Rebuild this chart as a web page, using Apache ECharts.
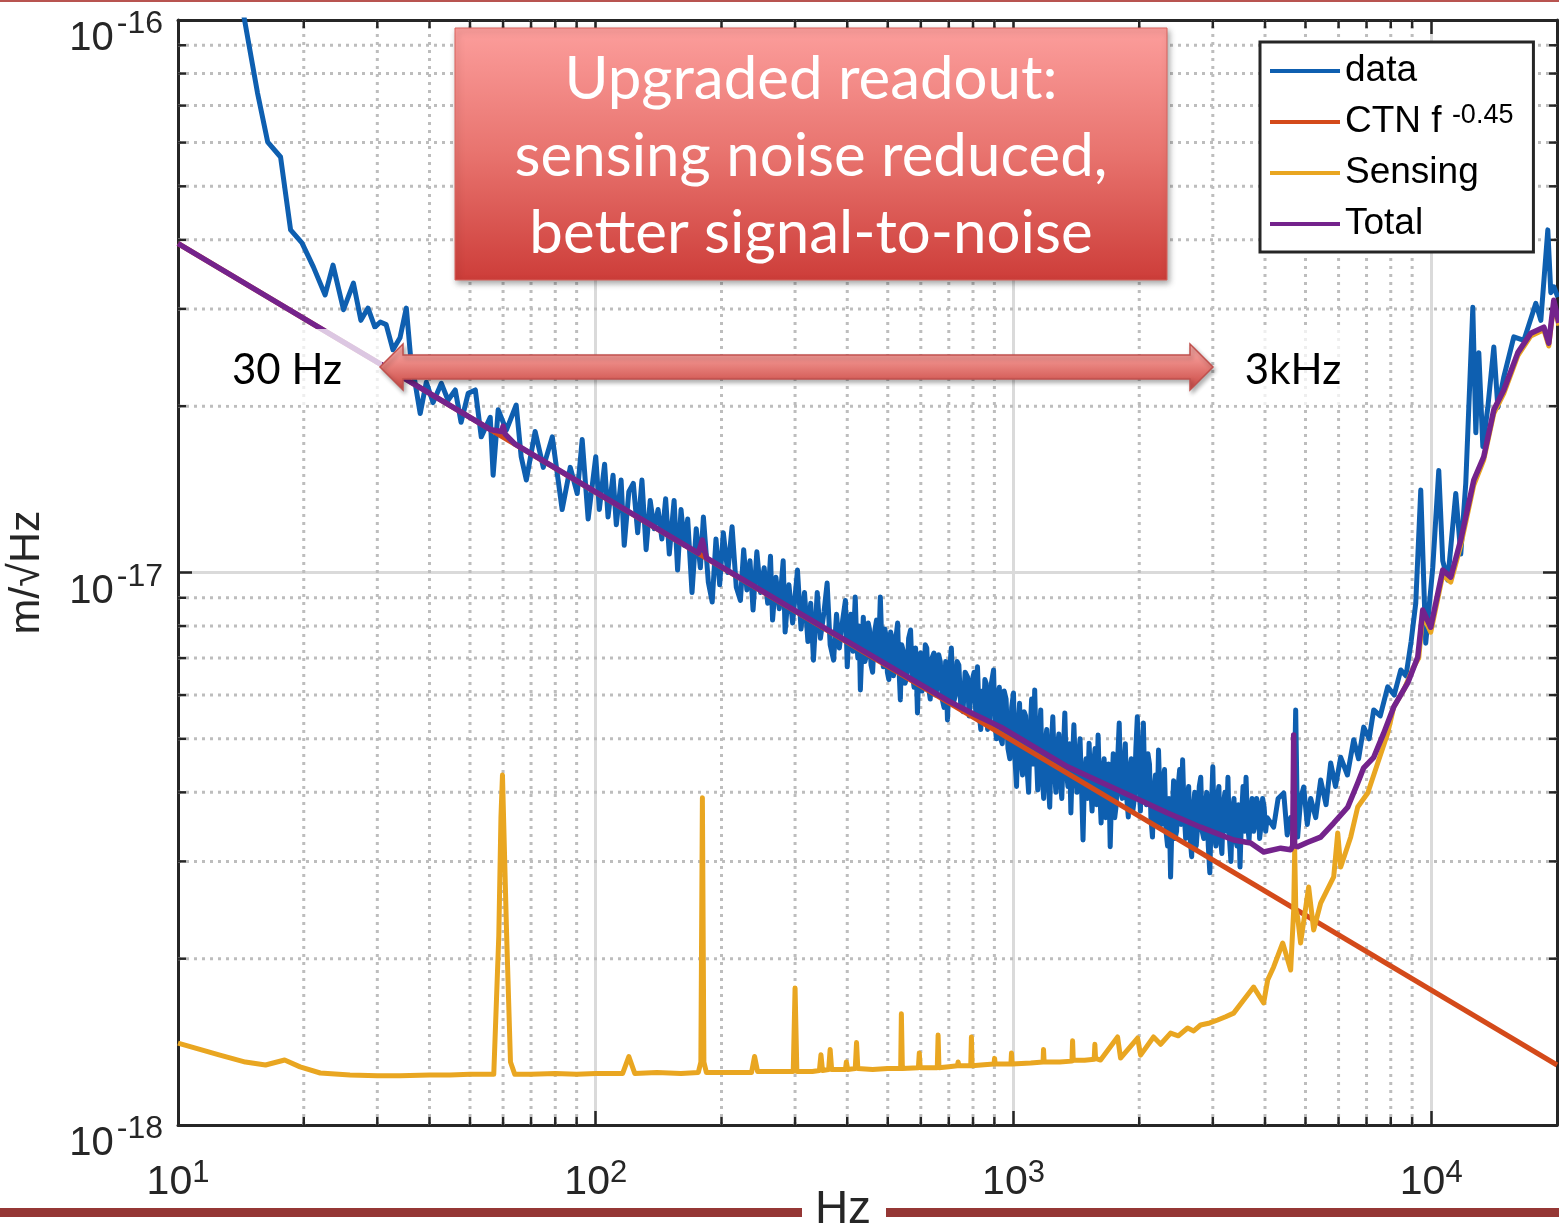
<!DOCTYPE html>
<html><head><meta charset="utf-8">
<script src="https://cdn.jsdelivr.net/npm/echarts@6/dist/echarts.min.js"></script>
<style>html,body{margin:0;padding:0;background:#fff;overflow:hidden}#c{width:1559px;height:1224px}</style>
</head><body><div id="c"></div>
<script>
// ---------- axes ----------
const X_MIN = 10, X_MAX = 20000, Y_MIN = 1e-18, Y_MAX = 1e-16;
const xMinorTicks = [20,30,40,50,60,70,80,90,200,300,400,500,600,700,800,900,2000,3000,4000,5000,6000,7000,8000,9000];
const yMinorTicks = [2e-18,3e-18,4e-18,5e-18,6e-18,7e-18,8e-18,9e-18,2e-17,3e-17,4e-17,5e-17,6e-17,7e-17,8e-17,9e-17];

// ---------- series: [frequency Hz, m/sqrt(Hz)] ----------
const ctnPoints = [[10,3.94e-17],[20000,1.284e-18]];

const dataPoints = [
[14.3,1.04e-16],[15.5,7.38e-17],[16.4,6.01e-17],[17.6,5.65e-17],[18.6,4.17e-17],[19.8,3.95e-17],[21.1,3.57e-17],[22.5,3.18e-17],[23.5,3.6e-17],[24.9,2.99e-17],
[26.3,3.34e-17],[27.4,2.86e-17],[28.5,3.01e-17],[29.6,2.78e-17],[30.5,2.84e-17],[31.5,2.81e-17],[32.7,2.53e-17],[34.0,2.66e-17],[35.2,3.01e-17],[36.0,2.48e-17],
[38.0,1.94e-17],[39.3,2.21e-17],[40.8,2.03e-17],[42.7,2.2e-17],[44.3,2.05e-17],[46.1,2.14e-17],[47.6,1.87e-17],[49.5,2.11e-17],[51.5,2.14e-17],[53.2,1.76e-17],
[55.9,1.91e-17],[56.8,1.5e-17],[58.4,1.97e-17],[61.1,1.81e-17],[64.5,2.01e-17],[66.3,1.62e-17],[68.2,1.47e-17],[71.6,1.8e-17],[74.9,1.55e-17],[78.7,1.76e-17],
[83.1,1.3e-17],[86.9,1.55e-17],[90.3,1.39e-17],[92.8,1.74e-17],[95.9,1.25e-17],
[100,1.62e-17],[102,1.30e-17],[105,1.57e-17],[107,1.26e-17],[110,1.50e-17],[112,1.22e-17],[115,1.47e-17],[117,1.12e-17],[120,1.40e-17],[123,1.45e-17],
[126,1.18e-17],[129,1.47e-17],[132,1.10e-17],[135,1.35e-17],[138,1.20e-17],[141,1.30e-17],[144,1.15e-17],[147,1.36e-17],[150,1.08e-17],[154,1.35e-17],
[157,1.01e-17],[160,1.30e-17],[163,1.12e-17],[166,1.25e-17],[170,9.2e-18],[174,1.20e-17],[178,1.02e-17],[181,1.26e-17],[186,9.6e-18],[190,8.84e-18],
[194,1.15e-17],[198,9.5e-18],[202,1.18e-17],[207,1.00e-17],[212,1.21e-17],[217,9.4e-18],[222,8.9e-18],[226,1.10e-17],[230,9.3e-18],[234,1.05e-17],
[238,8.55e-18],[243,1.09e-17],[248,9.2e-18],[253,1.02e-17],[258,8.8e-18],[262,1.07e-17],[265,8.2e-18],[270,9.8e-18],[275,8.6e-18],[281,1.05e-17],
[284,7.8e-18],[290,9.5e-18],[296,8.1e-18],[304,1.01e-17],[310,7.9e-18],[316,9.2e-18],[322,7.5e-18],[327,8.8e-18],[332,6.94e-18],[339,9.2e-18],
[345,7.6e-18],[352,8.5e-18],[358,9.57e-18],[364,7.4e-18],[371,6.94e-18],[377,8.4e-18],[383,7.3e-18],[390,8.2e-18],[396,8.9e-18],
[400,6.75e-18],[404,7.9e-18],[408,8.4e-18],[413,7.2e-18],[418,9.03e-18],[421,7.6e-18],[424,7.0e-18],[427,8.0e-18],[430,6.13e-18],[434,7.4e-18],
[437,8.3e-18],[441,6.9e-18],[445,7.1e-18],[449,8.1e-18],[452,7.9e-18],[456,6.8e-18],[460,6.6e-18],[465,7.8e-18],[470,8.2e-18],[475,7.0e-18],
[480,9.03e-18],[484,7.4e-18],[488,6.75e-18],[492,7.9e-18],[495,7.7e-18],[499,6.6e-18],[503,6.4e-18],[508,7.8e-18],[512,7.6e-18],[516,6.5e-18],
[520,6.9e-18],[524,7.7e-18],[528,8.1e-18],[532,6.7e-18],[536,5.88e-18],[540,7.4e-18],[545,7.2e-18],[550,6.3e-18],[556,6.5e-18],[561,7.6e-18],
[567,7.87e-18],[572,6.6e-18],[578,6.2e-18],[583,7.3e-18],[589,5.57e-18],[594,6.9e-18],[599,7.15e-18],[604,6.1e-18],[610,6.3e-18],[615,7.4e-18],
[620,7.3e-18],[626,6.2e-18],[632,5.9e-18],[638,7.0e-18],[645,7.15e-18],[651,6.0e-18],[657,6.2e-18],[662,7.1e-18],[668,6.9e-18],[675,5.9e-18],
[682,5.7e-18],[688,6.9e-18],[695,5.41e-18],[702,6.6e-18],[710,7.3e-18],[718,5.8e-18],[726,6.0e-18],[733,6.9e-18],[740,6.8e-18],[748,5.7e-18],
[757,5.6e-18],[766,6.6e-18],[776,6.47e-18],[783,5.5e-18],[790,5.5e-18],[797,6.4e-18],[805,6.6e-18],[812,5.6e-18],[820,6.75e-18],[827,5.6e-18],
[835,5.2e-18],[842,6.1e-18],[848,5.41e-18],[854,6.4e-18],[860,6.3e-18],[867,5.2e-18],[875,5.3e-18],[885,6.3e-18],[896,6.66e-18],[903,5.3e-18],
[910,5.0e-18],[917,6.0e-18],[925,6.2e-18],[932,5.0e-18],[940,4.9e-18],[950,6.1e-18],[960,5.9e-18],[970,4.8e-18],[980,4.6e-18],[990,5.7e-18],
[1000,6.05e-18],[1008,4.6e-18],[1017,4.1e-18],[1025,5.2e-18],[1034,5.8e-18],[1042,4.6e-18],[1051,4.3e-18],[1060,5.6e-18],[1069,5.5e-18],[1078,4.4e-18],
[1087,4.0e-18],[1096,5.1e-18],[1105,5.9e-18],[1114,4.5e-18],[1124,6.13e-18],[1133,4.8e-18],[1143,4.04e-18],[1152,5.0e-18],[1162,5.64e-18],[1171,4.3e-18],
[1181,3.9e-18],[1191,4.9e-18],[1201,5.2e-18],[1211,4.2e-18],[1221,3.76e-18],[1231,4.8e-18],[1242,5.48e-18],[1252,4.5e-18],[1263,4.0e-18],[1273,4.8e-18],
[1284,5.1e-18],[1294,4.2e-18],[1305,3.9e-18],[1316,4.7e-18],[1327,5.57e-18],[1338,4.4e-18],[1350,4.1e-18],[1361,4.9e-18],[1372,3.67e-18],[1383,4.5e-18],
[1395,5.3e-18],[1407,4.4e-18],[1419,4.0e-18],[1431,4.6e-18],[1443,5.0e-18],[1455,4.1e-18],[1467,3.28e-18],[1479,4.3e-18],[1492,4.6e-18],[1504,3.9e-18],
[1517,4.91e-18],[1529,4.2e-18],[1542,3.7e-18],[1555,4.5e-18],[1568,4.8e-18],[1581,3.8e-18],[1594,5.08e-18],[1607,4.1e-18],[1621,3.52e-18],[1634,4.3e-18],
[1648,4.6e-18],[1662,3.6e-18],[1676,3.9e-18],[1690,4.5e-18],[1704,3.19e-18],[1718,4.0e-18],[1733,4.7e-18],[1747,3.6e-18],[1762,3.8e-18],[1776,4.6e-18],
[1791,5.34e-18],[1806,4.0e-18],[1821,3.9e-18],[1836,4.4e-18],[1852,4.9e-18],[1867,3.9e-18],[1883,3.61e-18],[1898,4.4e-18],[1914,4.6e-18],[1930,3.7e-18],
[1947,3.9e-18],[1963,4.8e-18],[1979,5.48e-18],[1996,4.2e-18],[2013,3.7e-18],[2029,4.6e-18],[2046,5.34e-18],[2063,4.0e-18],[2081,3.8e-18],[2098,4.7e-18],
[2116,4.5e-18],[2133,3.6e-18],[2151,3.32e-18],[2169,4.0e-18],[2187,4.3e-18],[2205,3.5e-18],[2224,4.77e-18],[2242,3.9e-18],[2261,3.5e-18],[2280,4.2e-18],
[2299,4.4e-18],[2318,3.4e-18],[2338,3.2e-18],[2357,3.9e-18],[2377,2.81e-18],[2397,3.6e-18],[2417,4.2e-18],[2437,3.3e-18],[2457,3.4e-18],[2478,4.1e-18],
[2499,4.4e-18],[2519,3.5e-18],[2540,4.58e-18],[2561,3.7e-18],[2583,3.3e-18],[2604,3.9e-18],[2626,4.1e-18],[2648,3.3e-18],[2670,3.06e-18],[2692,3.7e-18],
[2715,4.0e-18],[2738,3.2e-18],[2761,3.5e-18],[2784,4.1e-18],[2807,4.26e-18],[2830,3.4e-18],[2854,3.3e-18],[2878,3.8e-18],[2902,4.0e-18],[2926,3.2e-18],
[2951,2.86e-18],[2975,3.7e-18],[3000,4.45e-18],[3025,3.4e-18],[3051,3.2e-18],[3076,3.9e-18],[3102,4.1e-18],[3128,3.3e-18],[3154,3.1e-18],[3180,3.8e-18],
[3207,4.0e-18],[3234,3.4e-18],[3261,4.26e-18],[3288,3.3e-18],[3315,3.0e-18],[3343,3.7e-18],[3371,3.9e-18],[3399,3.3e-18],[3428,3.2e-18],[3456,3.8e-18],
[3485,2.93e-18],[3514,3.6e-18],[3544,4.1e-18],[3573,3.4e-18],[3603,4.26e-18],[3633,3.5e-18],[3664,3.28e-18],[3694,3.7e-18],[3725,3.9e-18],[3756,3.4e-18],
[3788,3.5e-18],[3819,3.9e-18],[3851,3.8e-18],[3883,3.3e-18],[3916,3.5e-18],[3948,3.9e-18],[3981,3.76e-18],[4014,3.4e-18],[4048,3.6e-18],
[4195,3.46e-18],[4300,3.9e-18],[4435,3.99e-18],[4520,3.35e-18],[4608,3.6e-18],[4680,3.4e-18],[4737,5.64e-18],[4788,3.32e-18],[4870,3.9e-18],[4950,4.09e-18],
[5050,3.5e-18],[5145,3.9e-18],[5290,3.6e-18],[5436,4.21e-18],[5600,3.8e-18],[5745,4.52e-18],[5900,4.1e-18],[6071,4.63e-18],[6300,4.3e-18],[6522,4.98e-18],
[6700,4.6e-18],[6891,5.25e-18],[7100,5.0e-18],[7283,5.64e-18],[7550,5.5e-18],[7866,6.21e-18],[8150,6.0e-18],[8453,6.66e-18],[8700,6.5e-18],[8950,7.5e-18],
[9182,8.8e-18],[9438,1.41e-17],[9701,7.45e-18],[10083,1.02e-17],[10423,1.53e-17],[10654,1.05e-17],[10952,9.69e-18],[11135,1.11e-17],[11447,1.39e-17],[11767,1.08e-17],
[12095,1.45e-17],[12575,3.02e-17],[12785,1.79e-17],[12998,2.5e-17],[13289,1.69e-17],[13658,1.99e-17],[14119,2.56e-17],[14434,1.99e-17],[14919,2.26e-17],[15763,2.67e-17],
[16659,2.63e-17],[17797,3.07e-17],[18296,2.86e-17],[19012,4.17e-17],[19330,3.21e-17],[19652,3.29e-17],[20092,3.15e-17]
];

const sensingPoints = [
[10,1.407e-18],[12.6,1.338e-18],[14.5,1.30e-18],[16.2,1.284e-18],[18.0,1.311e-18],[19.6,1.274e-18],[21.9,1.242e-18],[25.8,1.232e-18],[30,1.228e-18],[34,1.228e-18],
[40,1.232e-18],[44.8,1.232e-18],[50,1.235e-18],[57.0,1.235e-18],[58.6,2.2e-18],[59.3,3.6e-18],[59.8,4.3e-18],[60.3,4.3e-18],[61.2,2.2e-18],[62.5,1.3e-18],
[64,1.235e-18],[70,1.235e-18],[80,1.24e-18],[90,1.235e-18],[100,1.24e-18],[110,1.24e-18],[116,1.24e-18],[120,1.33e-18],[124,1.24e-18],[140,1.245e-18],
[160,1.24e-18],[176,1.245e-18],[178.5,1.3e-18],[180,3.91e-18],[181.5,1.3e-18],[184,1.245e-18],[210,1.245e-18],[236,1.245e-18],[240,1.33e-18],[244,1.25e-18],
[270,1.25e-18],[297,1.25e-18],[300,1.77e-18],[303,1.25e-18],[330,1.25e-18],[343,1.255e-18],[346,1.34e-18],[349,1.255e-18],[361,1.26e-18],[364,1.37e-18],
[367,1.26e-18],[380,1.26e-18],[396,1.26e-18],[398,1.3e-18],[401,1.26e-18],[418,1.265e-18],[421,1.41e-18],[424,1.265e-18],[460,1.26e-18],[500,1.265e-18],
[537,1.265e-18],[539,1.59e-18],[542,1.265e-18],[592,1.27e-18],[595,1.35e-18],[598,1.27e-18],[657,1.27e-18],[660,1.455e-18],[663,1.27e-18],[700,1.275e-18],
[734,1.28e-18],[737,1.30e-18],[740,1.28e-18],[790,1.28e-18],[793,1.443e-18],[796,1.28e-18],[850,1.285e-18],[898,1.29e-18],[901,1.32e-18],[904,1.29e-18],
[950,1.29e-18],[986,1.29e-18],[989,1.35e-18],[992,1.29e-18],[1100,1.295e-18],[1177,1.30e-18],[1180,1.37e-18],[1184,1.30e-18],[1290,1.30e-18],[1380,1.305e-18],
[1385,1.42e-18],[1390,1.31e-18],[1480,1.31e-18],[1560,1.315e-18],[1566,1.40e-18],[1572,1.32e-18],[1616,1.311e-18],[1775,1.443e-18],[1804,1.322e-18],[1982,1.437e-18],
[2015,1.338e-18],[2164,1.443e-18],[2250,1.40e-18],[2377,1.467e-18],[2480,1.45e-18],[2611,1.498e-18],[2700,1.48e-18],[2805,1.517e-18],[2950,1.53e-18],[3081,1.549e-18],
[3220,1.57e-18],[3365,1.594e-18],[3556,1.683e-18],[3757,1.777e-18],[3970,1.663e-18],[4059,1.83e-18],[4195,1.932e-18],[4410,2.135e-18],[4608,1.908e-18],[4685,2.449e-18],
[4711,3.146e-18],[4740,2.45e-18],[4788,2.379e-18],[4867,2.135e-18],[5088,2.696e-18],[5231,2.254e-18],[5436,2.522e-18],[5841,2.812e-18],[5972,3.377e-18],[6071,2.931e-18],
[6416,3.322e-18],[6668,3.763e-18],[7046,3.99e-18],[7446,4.52e-18],[7866,5.12e-18],[8133,5.71e-18],[8594,6.13e-18],[9081,6.75e-18],[9333,7.0e-18],[9542,8.38e-18],
[9972,7.8e-18],[10654,9.9e-18],[11135,9.61e-18],[11767,1.12e-17],[12643,1.44e-17],[13356,1.6e-17],[14119,1.94e-17],[14919,2.11e-17],[16118,2.47e-17],[17313,2.68e-17],
[18601,2.75e-17],[19115,2.57e-17],[19652,3.07e-17],[20203,2.8e-17]
];

const totalPoints = [
[10,3.94e-17],[56,1.814e-17],[59.5,1.80e-17],[60,1.84e-17],[60.7,1.78e-17],[64,1.709e-17],[176,1.084e-17],[180,1.145e-17],[184,1.063e-17],[300,8.53e-18],
[700,5.85e-18],[800,5.55e-18],[933,5.25e-18],[1347,4.45e-18],[1938,3.92e-18],[2338,3.67e-18],[2805,3.46e-18],[3365,3.28e-18],[3696,3.24e-18],[3970,3.12e-18],
[4361,3.17e-18],[4608,3.15e-18],[4660,3.2e-18],[4685,5.08e-18],[4710,3.2e-18],[4788,3.19e-18],[5062,3.25e-18],[5436,3.32e-18],[5841,3.52e-18],[6310,3.76e-18],
[6668,4.16e-18],[6891,4.43e-18],[7283,4.63e-18],[7695,5.12e-18],[8133,5.71e-18],[8784,6.31e-18],[9284,7.03e-18],[9542,8.55e-18],[9972,7.96e-18],[10654,1.01e-17],
[11135,9.81e-18],[11767,1.145e-17],[12643,1.47e-17],[13356,1.62e-17],[14119,1.97e-17],[14919,2.14e-17],[16118,2.5e-17],[17313,2.71e-17],[18601,2.78e-17],[19115,2.6e-17],
[19652,3.11e-17],[20203,2.83e-17]
];

const seriesNames = ['data', 'CTN f -0.45', 'Sensing', 'Total'];
const seriesColors = ['#0e5fb0', '#d44a1a', '#e9a621', '#74238c'];
const seriesWidths = [5, 5, 5, 5.5];

// ---------- styling ----------
const AXIS_C = '#262626';
const FONT = 'Liberation Sans';
const GRID_DOT = '#bdbdbd';

function powLabel(v) {
  const l = Math.log10(v);
  const e = Math.round(l);
  if (Math.abs(l - e) > 1e-6) return '';
  return '{b|10}{s|' + e + '}';
}

function renderXMinor(params, api) {
  const x = api.value(0);
  const b = api.coord([x, Y_MIN]);
  const t = api.coord([x, Y_MAX]);
  return { type: 'group', children: [
    { type: 'line', shape: { x1: b[0], y1: b[1], x2: t[0], y2: t[1] }, style: { stroke: GRID_DOT, lineWidth: 3, lineDash: [3, 5] } },
    { type: 'line', shape: { x1: b[0], y1: b[1], x2: b[0], y2: b[1] - 8 }, style: { stroke: AXIS_C, lineWidth: 2.5 } },
    { type: 'line', shape: { x1: t[0], y1: t[1], x2: t[0], y2: t[1] + 8 }, style: { stroke: AXIS_C, lineWidth: 2.5 } }
  ]};
}
function renderYMinor(params, api) {
  const y = api.value(1);
  const l = api.coord([X_MIN, y]);
  const r = api.coord([X_MAX, y]);
  return { type: 'group', children: [
    { type: 'line', shape: { x1: l[0], y1: l[1], x2: r[0], y2: r[1] }, style: { stroke: GRID_DOT, lineWidth: 3, lineDash: [3, 5] } },
    { type: 'line', shape: { x1: l[0], y1: l[1], x2: l[0] + 8, y2: l[1] }, style: { stroke: AXIS_C, lineWidth: 2.5 } },
    { type: 'line', shape: { x1: r[0], y1: r[1], x2: r[0] - 8, y2: r[1] }, style: { stroke: AXIS_C, lineWidth: 2.5 } }
  ]};
}

const chart = echarts.init(document.getElementById('c'), null, { renderer: 'canvas' });

const axisCommon = {
  type: 'log', logBase: 10,
  axisLine: { show: true, onZero: false, lineStyle: { color: AXIS_C, width: 3 } },
  axisTick: { show: true, inside: true, length: 14, lineStyle: { color: AXIS_C, width: 2.5 } },
  minorTick: { show: false }, minorSplitLine: { show: false }
};

function lineSeries(i, pts) {
  return {
    name: seriesNames[i], type: 'line', data: pts, color: seriesColors[i],
    showSymbol: false, symbol: 'none', smooth: false, z: 3, clip: true,
    lineStyle: { color: seriesColors[i], width: seriesWidths[i], join: 'round' },
    emphasis: { disabled: true }
  };
}

const option = {
  animation: false,
  backgroundColor: '#ffffff',
  grid: { left: 178, right: 2, top: 20, bottom: 99, containLabel: false, outerBoundsMode: 'none' },
  xAxis: [
    Object.assign({}, axisCommon, {
      min: X_MIN, max: X_MAX, position: 'bottom',
      name: 'Hz', nameLocation: 'middle', nameGap: 62, nameMoveOverlap: false,
      nameTextStyle: { fontFamily: FONT, fontSize: 46, color: AXIS_C, padding: [0, 49, 0, 0] },
      axisLabel: { show: true, margin: 33, formatter: powLabel,
        rich: { b: { fontFamily: FONT, fontSize: 41, color: AXIS_C, lineHeight: 49 },
                s: { fontFamily: FONT, fontSize: 31, color: AXIS_C, lineHeight: 20, verticalAlign: 'top' } } },
      splitLine: { show: true, lineStyle: { color: '#dadada', width: 3 } }
    }),
    Object.assign({}, axisCommon, {
      min: X_MIN, max: X_MAX, position: 'top',
      axisLabel: { show: false }, splitLine: { show: false }
    })
  ],
  yAxis: [
    Object.assign({}, axisCommon, {
      min: Y_MIN, max: Y_MAX, position: 'left',
      name: 'm/\u221AHz', nameLocation: 'middle', nameGap: 129, nameRotate: 90, nameMoveOverlap: false,
      nameTextStyle: { fontFamily: FONT, fontSize: 43, color: AXIS_C },
      axisLabel: { show: true, margin: 15, formatter: powLabel, padding: [38, 0, 0, 0],
        rich: { b: { fontFamily: FONT, fontSize: 40, color: AXIS_C, lineHeight: 61 },
                s: { fontFamily: FONT, fontSize: 32, color: AXIS_C, lineHeight: 13, verticalAlign: 'top', padding: [0, 0, 0, 3] } } },
      splitLine: { show: true, lineStyle: { color: '#dadada', width: 3 } }
    }),
    Object.assign({}, axisCommon, {
      min: Y_MIN, max: Y_MAX, position: 'right',
      axisLabel: { show: false }, splitLine: { show: false }
    })
  ],
  legend: {
    orient: 'vertical', left: 1260, top: 42,
    data: seriesNames,
    icon: 'rect', itemWidth: 70, itemHeight: 4, itemGap: 11,
    padding: [9, 20, 8, 10],
    backgroundColor: '#ffffff', borderColor: AXIS_C, borderWidth: 3, borderRadius: 0,
    selectedMode: false,
    formatter: function (name) { return name.indexOf('CTN') === 0 ? '{n|CTN f }{s|-0.45}' : '{n|' + name + '}'; },
    textStyle: { fontFamily: FONT, fontSize: 37, color: '#000', lineHeight: 40,
      rich: { n: { fontFamily: FONT, fontSize: 37, color: '#000', lineHeight: 40 },
              s: { fontFamily: FONT, fontSize: 27, color: '#000', lineHeight: 9, verticalAlign: 'top' } } }
  },
  series: [
    { name: 'minorX', type: 'custom', coordinateSystem: 'cartesian2d', xAxisIndex: 0, yAxisIndex: 0,
      data: xMinorTicks.map(v => [v, Y_MIN]), encode: { x: 0, y: 1 }, renderItem: renderXMinor, silent: true, z: 1, clip: false },
    { name: 'minorY', type: 'custom', coordinateSystem: 'cartesian2d', xAxisIndex: 0, yAxisIndex: 0,
      data: yMinorTicks.map(v => [X_MIN, v]), encode: { x: 0, y: 1 }, renderItem: renderYMinor, silent: true, z: 1, clip: false },
    lineSeries(0, dataPoints),
    lineSeries(1, ctnPoints),
    lineSeries(2, sensingPoints),
    lineSeries(3, totalPoints)
  ],
  graphic: [
    // slide decorations
    { type: 'rect', z: 100, silent: true, shape: { x: 0, y: 0, width: 1559, height: 2 }, style: { fill: '#b85450' } },
    { type: 'rect', z: 100, silent: true, shape: { x: 0, y: 1208, width: 802, height: 9 }, style: { fill: '#953735' } },
    { type: 'rect', z: 100, silent: true, shape: { x: 886, y: 1208, width: 673, height: 9 }, style: { fill: '#953735' } },
    // annotation box
    { type: 'rect', z: 100, silent: true, shape: { x: 455, y: 28, width: 712, height: 252 },
      style: { fill: { type: 'linear', x: 0, y: 0, x2: 0, y2: 1, colorStops: [
        { offset: 0, color: '#fc9e9c' }, { offset: 0.5, color: '#e8736e' }, { offset: 1, color: '#cd3d39' } ] },
        stroke: '#d9625d', lineWidth: 1, shadowBlur: 6, shadowOffsetX: 2, shadowOffsetY: 3, shadowColor: 'rgba(0,0,0,0.35)' } },
    { type: 'text', z: 101, silent: true, x: 811, y: 157,
      style: { text: 'Upgraded readout:\nsensing noise reduced,\nbetter signal-to-noise', fill: '#ffffff',
        font: '60px Lato', align: 'center', verticalAlign: 'middle', lineHeight: 77 } },
    // label backgrounds
    { type: 'rect', z: 99, silent: true, shape: { x: 222, y: 329, width: 160, height: 76 }, style: { fill: 'rgba(255,255,255,0.75)' } },
    { type: 'rect', z: 99, silent: true, shape: { x: 1215, y: 329, width: 137, height: 76 }, style: { fill: 'rgba(255,255,255,0.75)' } },
    // double arrow
    { type: 'polygon', z: 100, silent: true,
      shape: { points: [[380,367],[403,344],[403,355],[1190,355],[1190,344],[1213,367],[1190,390],[1190,379],[403,379],[403,390]] },
      style: { fill: { type: 'linear', x: 0, y: 0, x2: 0, y2: 1, colorStops: [
        { offset: 0, color: '#fbb2ae' }, { offset: 0.25, color: '#f59a96' }, { offset: 0.75, color: '#d6605b' }, { offset: 1, color: '#c94a46' } ] },
        stroke: '#c0504d', lineWidth: 1.5, shadowBlur: 4, shadowOffsetX: 2, shadowOffsetY: 3, shadowColor: 'rgba(0,0,0,0.3)' } },
    { type: 'text', z: 101, silent: true, x: 287, y: 370, style: { text: '30 Hz', fill: '#000', font: '42px Lato', align: 'center', verticalAlign: 'middle' } },
    { type: 'text', z: 101, silent: true, x: 1293, y: 370, style: { text: '3kHz', fill: '#000', font: '42px Lato', align: 'center', verticalAlign: 'middle' } }
  ]
};
chart.setOption(option);
</script>
</body></html>
